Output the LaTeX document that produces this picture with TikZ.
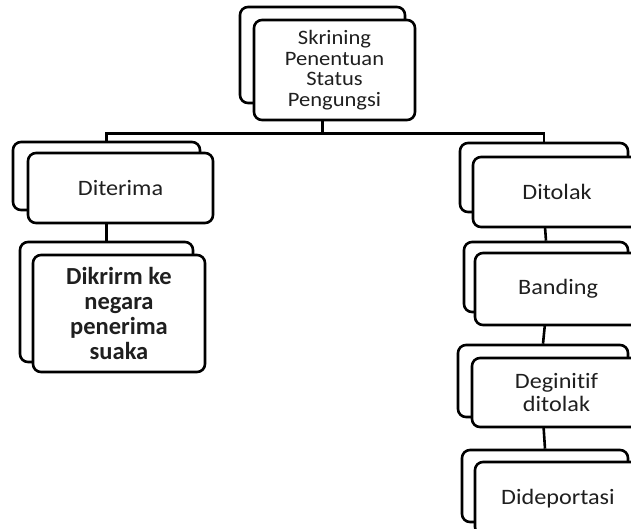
\documentclass[tikz,border=0pt]{standalone}
\usepackage{fontspec}
\setmainfont{Carlito}[FakeStretch=1.1, Ligatures=NoCommon]
\newfontfamily\plainfont{Carlito}[Ligatures=NoCommon]
\tikzset{
  cardback/.style={draw=black, line width=2.6pt, rounded corners=8pt, fill=white, inner sep=0pt},
  card/.style={cardback, align=center, text=black!88, font=\fontsize{22}{21}\selectfont},
  link/.style={draw=black, line width=2.6pt}
}
\begin{document}
\begin{tikzpicture}[x=1pt,y=-1pt]
\useasboundingbox (0,0) rectangle (631,528);
\clip (0,0) rectangle (631,528);
% back cards
\node[cardback, minimum width=165pt, minimum height=96pt] (topb) at (322.5,55) {};
\node[cardback, minimum width=187pt, minimum height=68pt] (diterimab) at (106.5,176) {};
\node[cardback, minimum width=173pt, minimum height=120pt] (dikrirmb) at (106.5,302) {};
\node[cardback, minimum width=168pt, minimum height=69pt] (ditolakb) at (544,177.5) {};
\node[cardback, minimum width=164pt, minimum height=70pt] (bandingb) at (546,277) {};
\node[cardback, minimum width=170pt, minimum height=72pt] (deginitifb) at (543,381) {};
\node[cardback, minimum width=166pt, minimum height=72pt] (dideportasib) at (545,486) {};
% connectors
\draw[link] (topb.south) -- ++(0,29) coordinate (split);
\draw[link] (split) -| (diterimab.north);
\draw[link] (split) -| (ditolakb.north);
\draw[link] (diterimab.south) -- (dikrirmb.north);
\draw[link] (ditolakb.south) -- (bandingb.north);
\draw[link] (bandingb.south) -- (deginitifb.north);
\draw[link] (deginitifb.south) -- (dideportasib.north);
% front cards
\node[card, minimum width=161pt, minimum height=100pt, font=\fontsize{20.5}{20.5}\selectfont] (top) at (334.5,70) {Skrining\\Penentuan\\Status\\Pengungsi};
\node[card, minimum width=185pt, minimum height=70pt] (diterima) at (120.5,188) {Diterima};
\node[card, minimum width=172pt, minimum height=117pt, font=\plainfont\bfseries\fontsize{24.5}{25}\selectfont] (dikrirm) at (119,313.5) {Dikrirm ke\\negara\\penerima\\suaka};
\node[card, minimum width=168pt, minimum height=70pt] (ditolak) at (557,192) {Ditolak};
\node[card, minimum width=166pt, minimum height=72pt] (banding) at (558,289) {Banding};
\node[card, minimum width=169pt, minimum height=69pt, font=\fontsize{22}{23}\selectfont] (deginitif) at (556.5,392.5) {Deginitif\\ditolak};
\node[card, minimum width=166pt, minimum height=73pt] (dideportasi) at (558,498.5) {Dideportasi};
\end{tikzpicture}
\end{document}
